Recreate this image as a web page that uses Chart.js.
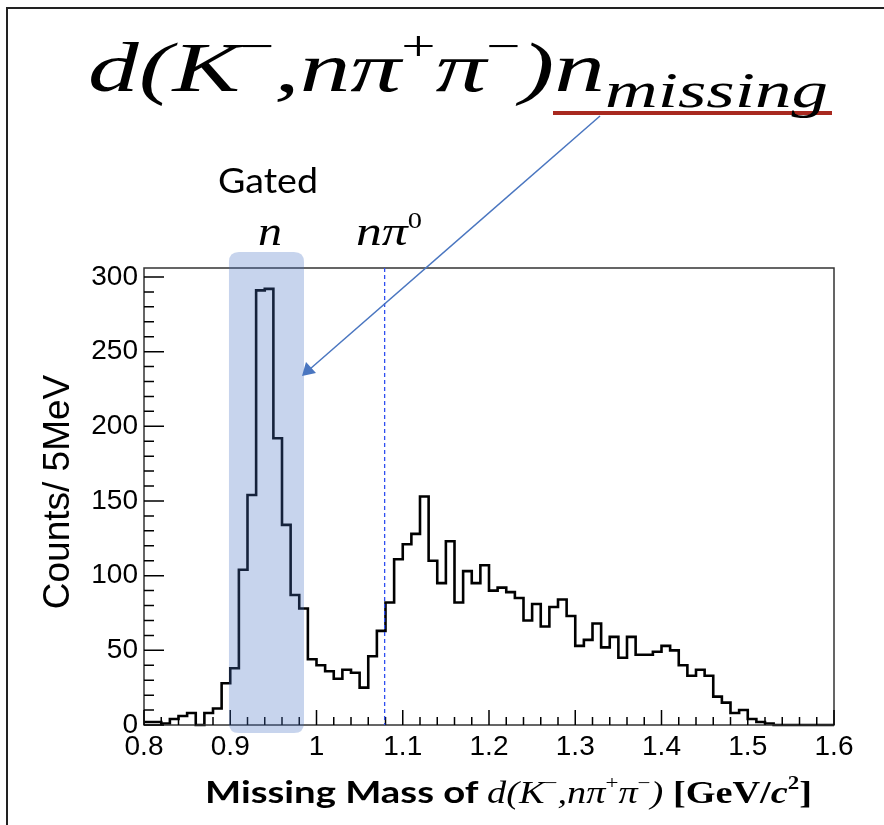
<!DOCTYPE html>
<html><head><meta charset="utf-8">
<script src="https://cdn.jsdelivr.net/npm/chart.js@4.4.1/dist/chart.umd.min.js"></script>
<style>
html,body{margin:0;padding:0;background:#fff;}
#wrap{position:relative;width:884px;height:825px;overflow:hidden;background:#fff;}
#c{position:absolute;left:0;top:0;}
.t{position:absolute;white-space:nowrap;line-height:1;color:#000;}
.math{font-family:"Liberation Serif","Times New Roman",serif;font-style:italic;}
.sup{font-size:0.6em;position:relative;top:-0.75em;font-style:normal;line-height:0;}
.sub{font-size:0.72em;position:relative;top:0.32em;line-height:0;}
#border{position:absolute;left:6px;top:7px;width:900px;height:900px;border-left:2px solid #222;border-top:2px solid #222;}
svg{position:absolute;left:0;top:0;}
</style></head><body>
<div id="wrap">
<div id="border"></div>
<canvas id="c" width="884" height="825"></canvas>
<svg width="884" height="825">
  <line x1="553" y1="113" x2="832" y2="113" stroke="#a8291f" stroke-width="4"/>
  <line x1="600" y1="116" x2="310" y2="369" stroke="#4a76c0" stroke-width="1.5"/>
  <polygon points="302,376 306,362 316,373" fill="#4a76c0"/>
</svg>
<div class="t math" id="title" data-w="740" style="left:88px;top:33px;font-size:70px;">d(K<span class="sup">−</span>,nπ<span class="sup">+</span>π<span class="sup">−</span>)n<span class="sub">missing</span></div>
<div class="t" id="gated" data-w="100" style="left:218px;top:163px;font-family:Lato,sans-serif;font-size:34px;">Gated</div>
<div class="t math" id="nlab" data-w="24" style="left:258px;top:210px;font-size:42px;">n</div>
<div class="t math" id="npilab" data-w="66" style="left:356px;top:210px;font-size:42px;">nπ<span class="sup" style="font-size:0.55em;">0</span></div>
<div class="t" id="ytitle" style="left:56px;top:492px;transform:translate(-50%,-50%) rotate(-90deg);font-family:'Liberation Sans',Arial,sans-serif;font-size:37px;">Counts/ 5MeV</div>
<div class="t" id="xtitle" data-w="607" style="left:205px;top:776px;font-size:31px;"><span style="font-family:Lato,sans-serif;font-weight:bold;">Missing Mass of </span><span class="math">d(K<span class="sup">−</span>,nπ<span class="sup">+</span>π<span class="sup">−</span>)</span> <span style="font-family:'Liberation Serif',serif;font-weight:bold;">[GeV/<i>c</i><span class="sup">2</span>]</span></div>
</div>
<script>
// ---- data ----
const binLowEdges = [0.80,0.81,0.82,0.83,0.84,0.85,0.86,0.87,0.88,0.89,
  0.90,0.91,0.92,0.93,0.94,0.95,0.96,0.97,0.98,0.99,
  1.00,1.01,1.02,1.03,1.04,1.05,1.06,1.07,1.08,1.09,
  1.10,1.11,1.12,1.13,1.14,1.15,1.16,1.17,1.18,1.19,
  1.20,1.21,1.22,1.23,1.24,1.25,1.26,1.27,1.28,1.29,
  1.30,1.31,1.32,1.33,1.34,1.35,1.36,1.37,1.38,1.39,
  1.40,1.41,1.42,1.43,1.44,1.45,1.46,1.47,1.48,1.49,
  1.50,1.51,1.52,1.53,1.54,1.55,1.56,1.57,1.58,1.59];
const counts = [2,2,1,4,6,8,0,8,11,28,
  38,104,154,291,292,192,134,87,78,44,
  40,36,31,37,35,25,46,63,82,111,
  121,128,153,110,95,123,82,103,95,107,
  90,92,89,85,70,81,66,79,84,73,
  53,57,68,52,59,45,59,47,47,49,
  53,50,40,33,37,33,19,15,8,10,
  4,2,1,0,0,0,0,0,0,0];
const xTickLabels = ["0.8","0.9","1","1.1","1.2","1.3","1.4","1.5","1.6"];
const yTickLabels = ["0","50","100","150","200","250","300"];
const xRange = [0.8, 1.6];
const yRange = [0, 306];
const gateRange = [0.8985, 0.9855];
const npi0Threshold = 1.079;

// ---- build ----
const pts = binLowEdges.map((x,i)=>({x:x, y:counts[i]}));
pts.push({x:xRange[1], y:counts[counts.length-1]});

const isMult = (v, step) => Math.abs(v/step - Math.round(v/step)) < 1e-6;

const deco = {
  id:'deco',
  afterDatasetsDraw(chart){
    const ctx = chart.ctx, a = chart.chartArea, xs = chart.scales.x, ys = chart.scales.y;
    ctx.save();
    ctx.strokeStyle = '#333'; ctx.lineWidth = 1.5;
    ctx.strokeRect(a.left, a.top, a.right-a.left, a.bottom-a.top);
    ctx.lineWidth = 1.5; ctx.strokeStyle = '#000';
    ctx.beginPath();
    xs.ticks.forEach(t=>{
      if(!isMult(t.value,0.02)) return;
      const px = xs.getPixelForValue(t.value);
      const len = isMult(t.value,0.1) ? 15 : 8;
      ctx.moveTo(px, a.bottom); ctx.lineTo(px, a.bottom-len);
    });
    ys.ticks.forEach(t=>{
      if(!isMult(t.value,10)) return;
      const py = ys.getPixelForValue(t.value);
      const len = isMult(t.value,50) ? 20 : 10;
      ctx.moveTo(a.left, py); ctx.lineTo(a.left+len, py);
    });
    ctx.stroke();
    const tx = xs.getPixelForValue(npi0Threshold);
    ctx.strokeStyle = '#2f4ff0'; ctx.lineWidth = 1.3; ctx.setLineDash([4,3]);
    ctx.beginPath(); ctx.moveTo(tx, a.top); ctx.lineTo(tx, a.bottom); ctx.stroke();
    ctx.setLineDash([]);
    const gx0 = xs.getPixelForValue(gateRange[0]), gx1 = xs.getPixelForValue(gateRange[1]);
    const gy0 = a.top-16, gy1 = a.bottom+8, r = 10;
    ctx.fillStyle = 'rgba(68,114,196,0.30)';
    ctx.beginPath();
    ctx.moveTo(gx0+r, gy0); ctx.lineTo(gx1-r, gy0); ctx.quadraticCurveTo(gx1, gy0, gx1, gy0+r);
    ctx.lineTo(gx1, gy1-r); ctx.quadraticCurveTo(gx1, gy1, gx1-r, gy1);
    ctx.lineTo(gx0+r, gy1); ctx.quadraticCurveTo(gx0, gy1, gx0, gy1-r);
    ctx.lineTo(gx0, gy0+r); ctx.quadraticCurveTo(gx0, gy0, gx0+r, gy0);
    ctx.fill();
    ctx.restore();
  }
};

new Chart(document.getElementById('c'), {
  type:'line',
  data:{datasets:[{data:pts, stepped:'before', borderColor:'#000', borderWidth:2.6, pointRadius:0, fill:false, clip:6, tension:0}]},
  options:{
    responsive:false, animation:false,
    layout:{padding:{left:0,right:50,top:268,bottom:0}},
    plugins:{legend:{display:false}, tooltip:{enabled:false}, title:{display:false}},
    scales:{
      x:{type:'linear', min:xRange[0], max:xRange[1],
        grid:{display:false, drawTicks:false}, border:{display:false},
        ticks:{stepSize:0.02, autoSkip:false, includeBounds:false, maxRotation:0, padding:5, color:'#000',
          font:{family:"'Liberation Sans', Arial, sans-serif", size:28},
          callback:(v)=>{ if(!isMult(v,0.1)) return ''; const i=Math.round((v-xRange[0])/0.1); return xTickLabels[i]; }},
        afterFit:(s)=>{s.height=100;}},
      y:{min:yRange[0], max:yRange[1],
        grid:{display:false, drawTicks:false}, border:{display:false},
        ticks:{stepSize:10, autoSkip:false, includeBounds:false, padding:6, color:'#000',
          font:{family:"'Liberation Sans', Arial, sans-serif", size:28},
          callback:(v)=>{ if(!isMult(v,50)) return ''; return yTickLabels[Math.round(v/50)]; }},
        afterFit:(s)=>{s.width=144;}}
    }
  },
  plugins:[deco]
});

document.querySelectorAll('[data-w]').forEach(el=>{
  const w = el.getBoundingClientRect().width;
  const target = +el.dataset.w;
  el.style.transformOrigin = 'left top';
  el.style.transform = 'scaleX(' + (target/w) + ')';
});
</script>
</body></html>
